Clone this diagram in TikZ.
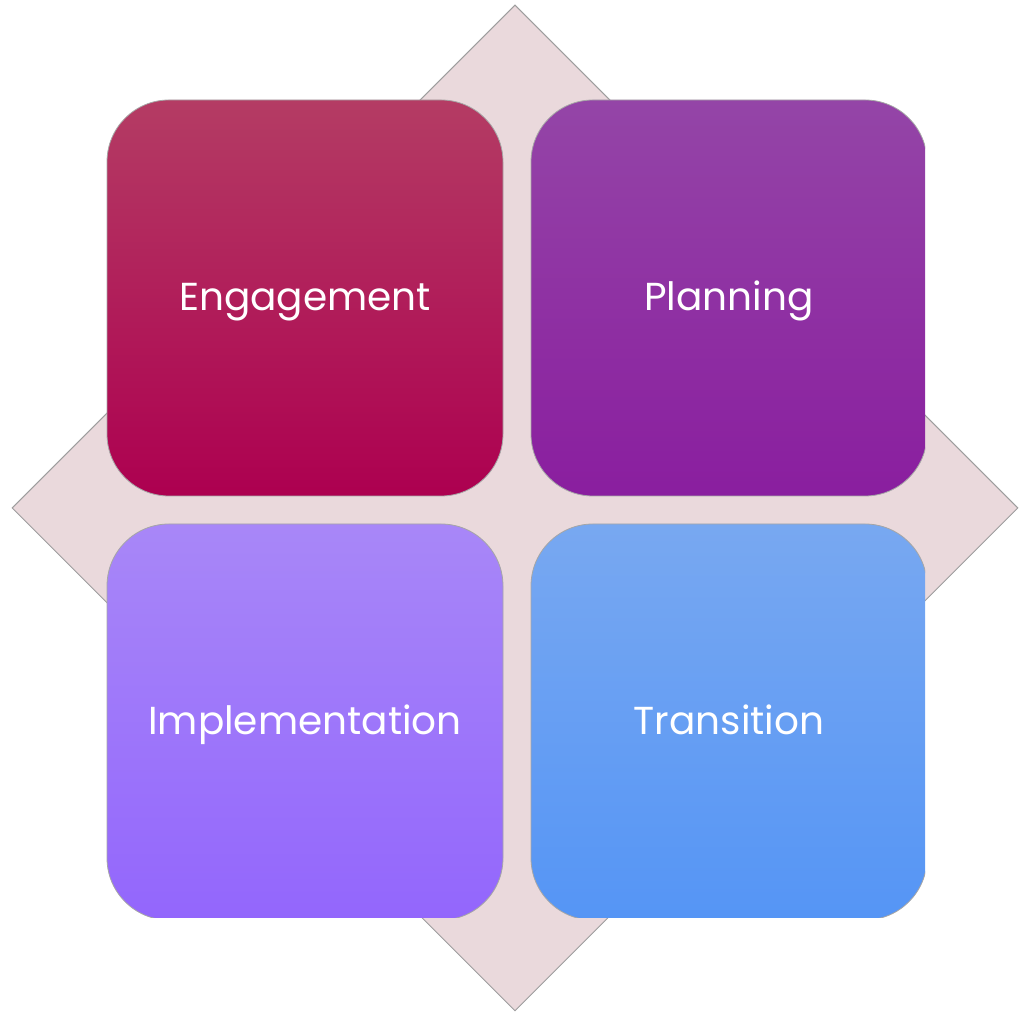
\documentclass[tikz,border=0pt]{standalone}
\usepackage{fontspec}
\setmainfont{Poppins}
\usetikzlibrary{shapes.geometric}
\definecolor{diamfill}{HTML}{EAD9DC}
\definecolor{engtop}{HTML}{B43C64}
\definecolor{engbot}{HTML}{AD0050}
\definecolor{plntop}{HTML}{9445A7}
\definecolor{plnbot}{HTML}{8A1E9F}
\definecolor{imptop}{HTML}{A887F8}
\definecolor{impbot}{HTML}{9366FC}
\definecolor{trntop}{HTML}{78A8F1}
\definecolor{trnbot}{HTML}{5595F5}
\begin{document}
\begin{tikzpicture}[x=1pt,y=1pt,
	phase/.style={rectangle,rounded corners=62pt,minimum width=396pt,minimum height=396pt,inner sep=0pt,draw=black!35,line width=0.8pt,text=white,text height=25pt,text depth=0pt,font=\fontsize{39}{42}\selectfont},
	backdrop/.style={diamond,aspect=1,fill=diamfill,draw=black!38,line width=1pt,inner sep=0pt,minimum size=1006pt}]
	\useasboundingbox (0,0) rectangle (1023,1016);
	\node[backdrop](back) at (515,508){};
	\begin{scope}
		\clip (0,98) rectangle (925,1016);
		\node[phase,top color=engtop,bottom color=engbot](eng) at (305,718){Engagement};
		\node[phase,top color=plntop,bottom color=plnbot](pln) at (729,718){Planning};
		\node[phase,top color=imptop,bottom color=impbot](imp) at (305,294){Implementation};
		\node[phase,top color=trntop,bottom color=trnbot](trn) at (729,294){Transition};
	\end{scope}
\end{tikzpicture}
\end{document}
